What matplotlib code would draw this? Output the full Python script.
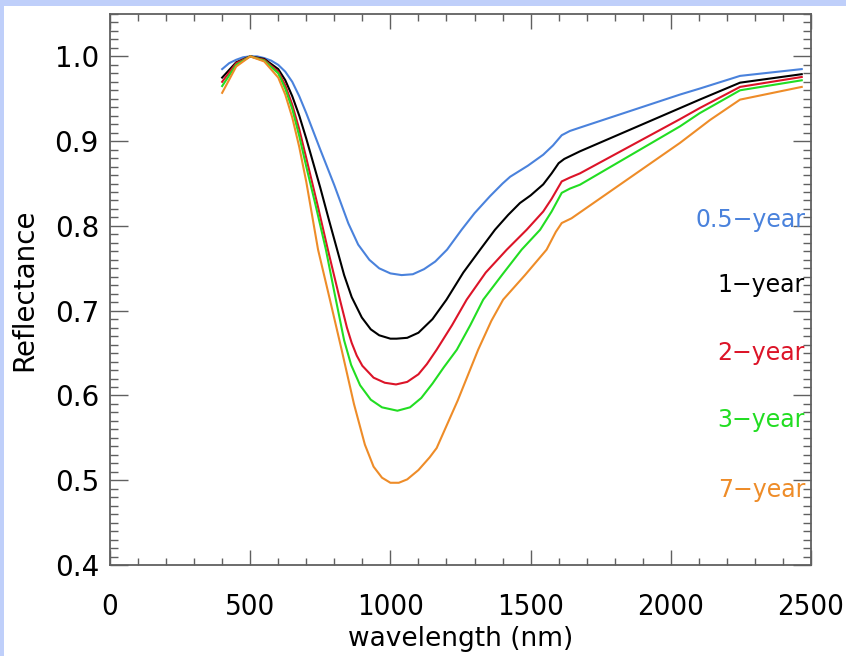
import matplotlib
matplotlib.use("Agg")
import matplotlib.pyplot as plt
from matplotlib.ticker import MultipleLocator
from matplotlib.patches import Rectangle

# ---- data ----
wl_05 = [400, 425, 450, 475, 500, 525, 550, 575, 600, 625, 650, 675, 700, 750, 800, 850, 885, 925,
         960, 1000, 1040, 1080, 1120, 1160, 1202, 1254, 1300, 1355, 1400, 1427, 1490, 1545, 1580,
         1611, 1640, 1676, 2033, 2103, 2247, 2467]
r_05 = [0.985, 0.992, 0.996, 0.999, 1.0, 1.0, 0.998, 0.995, 0.99, 0.982, 0.97, 0.953, 0.933, 0.89,
        0.848, 0.803, 0.778, 0.760, 0.750, 0.744, 0.742, 0.743, 0.749, 0.758, 0.772, 0.7955, 0.815,
        0.835, 0.85, 0.858, 0.871, 0.884, 0.895, 0.907, 0.912, 0.916, 0.955, 0.962, 0.977, 0.985]

wl_1 = [400, 450, 500, 550, 600, 625, 650, 675, 700, 750, 780, 810, 835, 862, 898, 930, 960, 1000,
        1022, 1060, 1100, 1150, 1200, 1260, 1320, 1373, 1420, 1462, 1500, 1545, 1575, 1600, 1620,
        1676, 2033, 2103, 2247, 2467]
r_1 = [0.975, 0.993, 1.0, 0.997, 0.985, 0.972, 0.953, 0.93, 0.903, 0.845, 0.808, 0.772, 0.742,
       0.716, 0.692, 0.678, 0.671, 0.667, 0.667, 0.668, 0.674, 0.69, 0.713, 0.745, 0.772, 0.7955,
       0.813, 0.827, 0.836, 0.849, 0.862, 0.874, 0.879, 0.888, 0.939, 0.949, 0.969, 0.979]

wl_2 = [400, 450, 500, 550, 600, 625, 650, 675, 700, 740, 777, 820, 845, 862, 880, 900, 940, 980,
        1020, 1060, 1100, 1130, 1165, 1220, 1272, 1340, 1415, 1486, 1545, 1575, 1611, 1640, 1676,
        2033, 2103, 2247, 2467]
r_2 = [0.97, 0.992, 1.0, 0.996, 0.982, 0.966, 0.943, 0.914, 0.88, 0.825, 0.772, 0.713, 0.680,
       0.662, 0.647, 0.635, 0.621, 0.615, 0.613, 0.616, 0.625, 0.637, 0.654, 0.683, 0.713, 0.745,
       0.772, 0.7955, 0.817, 0.832, 0.8525, 0.857, 0.862, 0.926, 0.939, 0.964, 0.9757]

wl_3 = [400, 450, 500, 550, 600, 625, 650, 675, 700, 735, 770, 800, 835, 860, 892, 930, 970, 1025,
        1070, 1110, 1150, 1190, 1237, 1285, 1331, 1400, 1468, 1534, 1575, 1611, 1640, 1676, 2033,
        2103, 2247, 2467]
r_3 = [0.965, 0.99, 1.0, 0.995, 0.98, 0.962, 0.938, 0.906, 0.87, 0.822, 0.772, 0.722, 0.665,
       0.636, 0.612, 0.595, 0.586, 0.582, 0.586, 0.597, 0.614, 0.633, 0.654, 0.683, 0.713, 0.743,
       0.772, 0.7955, 0.817, 0.839, 0.844, 0.8486, 0.9175, 0.933, 0.96, 0.9718]

wl_7 = [400, 450, 500, 550, 600, 625, 650, 675, 700, 742, 785, 826, 870, 909, 940, 970, 1000, 1030,
        1060, 1100, 1140, 1165, 1240, 1313, 1360, 1402, 1480, 1557, 1590, 1611, 1646, 2033, 2140,
        2247, 2467]
r_7 = [0.957, 0.988, 1.0, 0.994, 0.975, 0.955, 0.928, 0.893, 0.852, 0.772, 0.712, 0.654, 0.59,
       0.542, 0.516, 0.503, 0.497, 0.497, 0.501, 0.512, 0.527, 0.538, 0.594, 0.654, 0.688, 0.713,
       0.742, 0.772, 0.793, 0.8034, 0.809, 0.898, 0.925, 0.949, 0.964]

labels = ["0.5\u2212year", "1\u2212year", "2\u2212year", "3\u2212year", "7\u2212year"]
label_y = [0.807, 0.7306, 0.650, 0.571, 0.4885]
colors = ["#4a82dc", "#000000", "#dc1428", "#22dd22", "#ee8c28"]

x_ticks = [0, 500, 1000, 1500, 2000, 2500]
y_ticks = [0.4, 0.5, 0.6, 0.7, 0.8, 0.9, 1.0]

W, H = 846, 656
fig = plt.figure(figsize=(W / 100, H / 100), dpi=100, facecolor="#bfcffa")
fig.patches.append(Rectangle((4 / W, 0), 1, (H - 6) / H, transform=fig.transFigure,
                             facecolor="white", edgecolor="none", zorder=-1))

ax = fig.add_axes([110 / W, (H - 565) / H, 701 / W, 551 / H])
ax.set_facecolor("white")

series = [(wl_05, r_05), (wl_1, r_1), (wl_2, r_2), (wl_3, r_3), (wl_7, r_7)]
for (xs, ys), c in zip(series, colors):
    ax.plot(xs, ys, color=c, lw=1.5, solid_joinstyle="round")

for lab, ly, c in zip(labels, label_y, colors):
    ax.text(2479, ly, lab, color=c, ha="right", va="center", fontsize=17,
            family=["DejaVu Sans"])

ax.set_xlim(0, 2500)
ax.set_ylim(0.4, 1.05)
ax.set_xticks(x_ticks)
ax.set_xticklabels([str(v) for v in x_ticks])
ax.set_yticks(y_ticks)
ax.set_yticklabels([f"{v:.1f}" for v in y_ticks])
ax.xaxis.set_minor_locator(MultipleLocator(100))
ax.yaxis.set_minor_locator(MultipleLocator(0.01))

frame_c = "#606060"
for s in ax.spines.values():
    s.set_color(frame_c)
    s.set_linewidth(1.3)
ax.tick_params(which="both", direction="in", top=True, right=True, color=frame_c, width=1.0)
ax.tick_params(which="major", axis="y", length=13)
ax.tick_params(which="minor", axis="y", length=6)
ax.tick_params(which="major", axis="x", length=11, pad=20)
ax.tick_params(which="minor", axis="x", length=5)
ax.tick_params(axis="y", labelsize=20, pad=8)
ax.tick_params(axis="x", labelsize=21)
for t in ax.get_xticklabels():
    t.set_family(["DejaVu Sans"])
    t.set_stretch("condensed")
for t in ax.get_yticklabels():
    t.set_family(["DejaVu Sans"])

ax.set_xlabel("wavelength (nm)", fontsize=19, family=["DejaVu Sans"], labelpad=4)
ax.set_ylabel("Reflectance", fontsize=20, family=["DejaVu Sans"], labelpad=12)

fig.savefig("out.png", dpi=100, facecolor=fig.get_facecolor())
